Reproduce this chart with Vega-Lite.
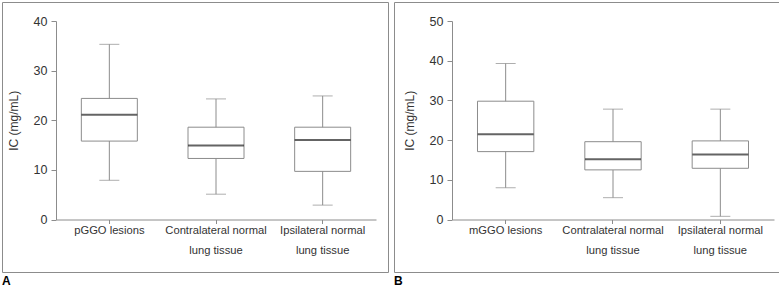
{
  "$schema": "https://vega.github.io/schema/vega-lite/v6.json",
  "background": "white",
  "padding": {"left": 1, "top": 1, "right": 0, "bottom": 0},
  "spacing": 4,
  "config": {
    "view": {"stroke": "#8c8c8c", "strokeWidth": 1},
    "font": "Liberation Sans",
    "title": {"font": "Liberation Sans", "fontSize": 12, "fontWeight": "bold", "color": "#000", "orient": "bottom", "anchor": "start", "offset": 4, "baseline": "top"},
    "axis": {
      "domainColor": "#8c8c8c", "tickColor": "#8c8c8c", "grid": false,
      "labelFont": "Liberation Sans", "labelFontSize": 12.5, "labelColor": "#333",
      "titleFont": "Liberation Sans", "titleFontSize": 12, "titleFontWeight": "normal", "titleColor": "#333"
    }
  },
  "hconcat": [
    {
      "title": "A",
      "width": 386,
      "height": 270,
      "data": {"values": [
        {"group": "pGGO lesions", "min": 7.9, "q1": 15.8, "median": 21.1, "q3": 24.4, "max": 35.3},
        {"group": "Contralateral normal|lung tissue", "min": 5.1, "q1": 12.3, "median": 14.9, "q3": 18.6, "max": 24.3},
        {"group": "Ipsilateral normal|lung tissue", "min": 2.9, "q1": 9.7, "median": 16.0, "q3": 18.6, "max": 24.9}
      ]},
      "encoding": {
        "x": {"field": "group", "type": "nominal", "sort": null,
          "scale": {"range": [54, 374], "paddingInner": 0, "paddingOuter": 0},
          "axis": {"title": null, "orient": "bottom", "offset": -52.5, "labelAngle": 0, "tickSize": 4, "labelPadding": 1, "labelLineHeight": 20, "labelFontSize": 11.2, "labelExpr": "split(datum.label, '|')"}}
      },
      "layer": [
        {"mark": {"type": "rule", "color": "#8c8c8c", "strokeWidth": 1},
         "encoding": {"y": {"field": "min", "type": "quantitative", "scale": {"domain": [0, 40], "range": [217.5, 19], "nice": false, "zero": false},
            "axis": {"title": "IC (mg/mL)", "offset": -54, "values": [0, 10, 20, 30, 40], "tickSize": 5, "labelPadding": 4, "titlePadding": 13}},
           "y2": {"field": "max"}}},
        {"mark": {"type": "bar", "fill": "white", "stroke": "#8c8c8c", "strokeWidth": 1, "width": {"band": 0.525}},
         "encoding": {"y": {"field": "q1", "type": "quantitative"}, "y2": {"field": "q3"}}},
        {"mark": {"type": "tick", "color": "#222", "thickness": 2, "size": 56},
         "encoding": {"y": {"field": "median", "type": "quantitative"}}},
        {"mark": {"type": "tick", "color": "#8c8c8c", "thickness": 1, "size": 20},
         "encoding": {"y": {"field": "min", "type": "quantitative"}}},
        {"mark": {"type": "tick", "color": "#8c8c8c", "thickness": 1, "size": 20},
         "encoding": {"y": {"field": "max", "type": "quantitative"}}}
      ]
    },
    {
      "title": "B",
      "width": 386,
      "height": 270,
      "data": {"values": [
        {"group": "mGGO lesions", "min": 8.0, "q1": 17.1, "median": 21.5, "q3": 29.8, "max": 39.3},
        {"group": "Contralateral normal|lung tissue", "min": 5.5, "q1": 12.5, "median": 15.2, "q3": 19.6, "max": 27.8},
        {"group": "Ipsilateral normal|lung tissue", "min": 0.8, "q1": 12.9, "median": 16.4, "q3": 19.8, "max": 27.8}
      ]},
      "encoding": {
        "x": {"field": "group", "type": "nominal", "sort": null,
          "scale": {"range": [58, 380], "paddingInner": 0, "paddingOuter": 0},
          "axis": {"title": null, "orient": "bottom", "offset": -52.5, "labelAngle": 0, "tickSize": 4, "labelPadding": 1, "labelLineHeight": 20, "labelFontSize": 11.2, "labelExpr": "split(datum.label, '|')"}}
      },
      "layer": [
        {"mark": {"type": "rule", "color": "#8c8c8c", "strokeWidth": 1},
         "encoding": {"y": {"field": "min", "type": "quantitative", "scale": {"domain": [0, 50], "range": [217.5, 19], "nice": false, "zero": false},
            "axis": {"title": "IC (mg/mL)", "offset": -58, "values": [0, 10, 20, 30, 40, 50], "tickSize": 5, "labelPadding": 4, "titlePadding": 13}},
           "y2": {"field": "max"}}},
        {"mark": {"type": "bar", "fill": "white", "stroke": "#8c8c8c", "strokeWidth": 1, "width": {"band": 0.525}},
         "encoding": {"y": {"field": "q1", "type": "quantitative"}, "y2": {"field": "q3"}}},
        {"mark": {"type": "tick", "color": "#222", "thickness": 2, "size": 56},
         "encoding": {"y": {"field": "median", "type": "quantitative"}}},
        {"mark": {"type": "tick", "color": "#8c8c8c", "thickness": 1, "size": 20},
         "encoding": {"y": {"field": "min", "type": "quantitative"}}},
        {"mark": {"type": "tick", "color": "#8c8c8c", "thickness": 1, "size": 20},
         "encoding": {"y": {"field": "max", "type": "quantitative"}}}
      ]
    }
  ]
}
